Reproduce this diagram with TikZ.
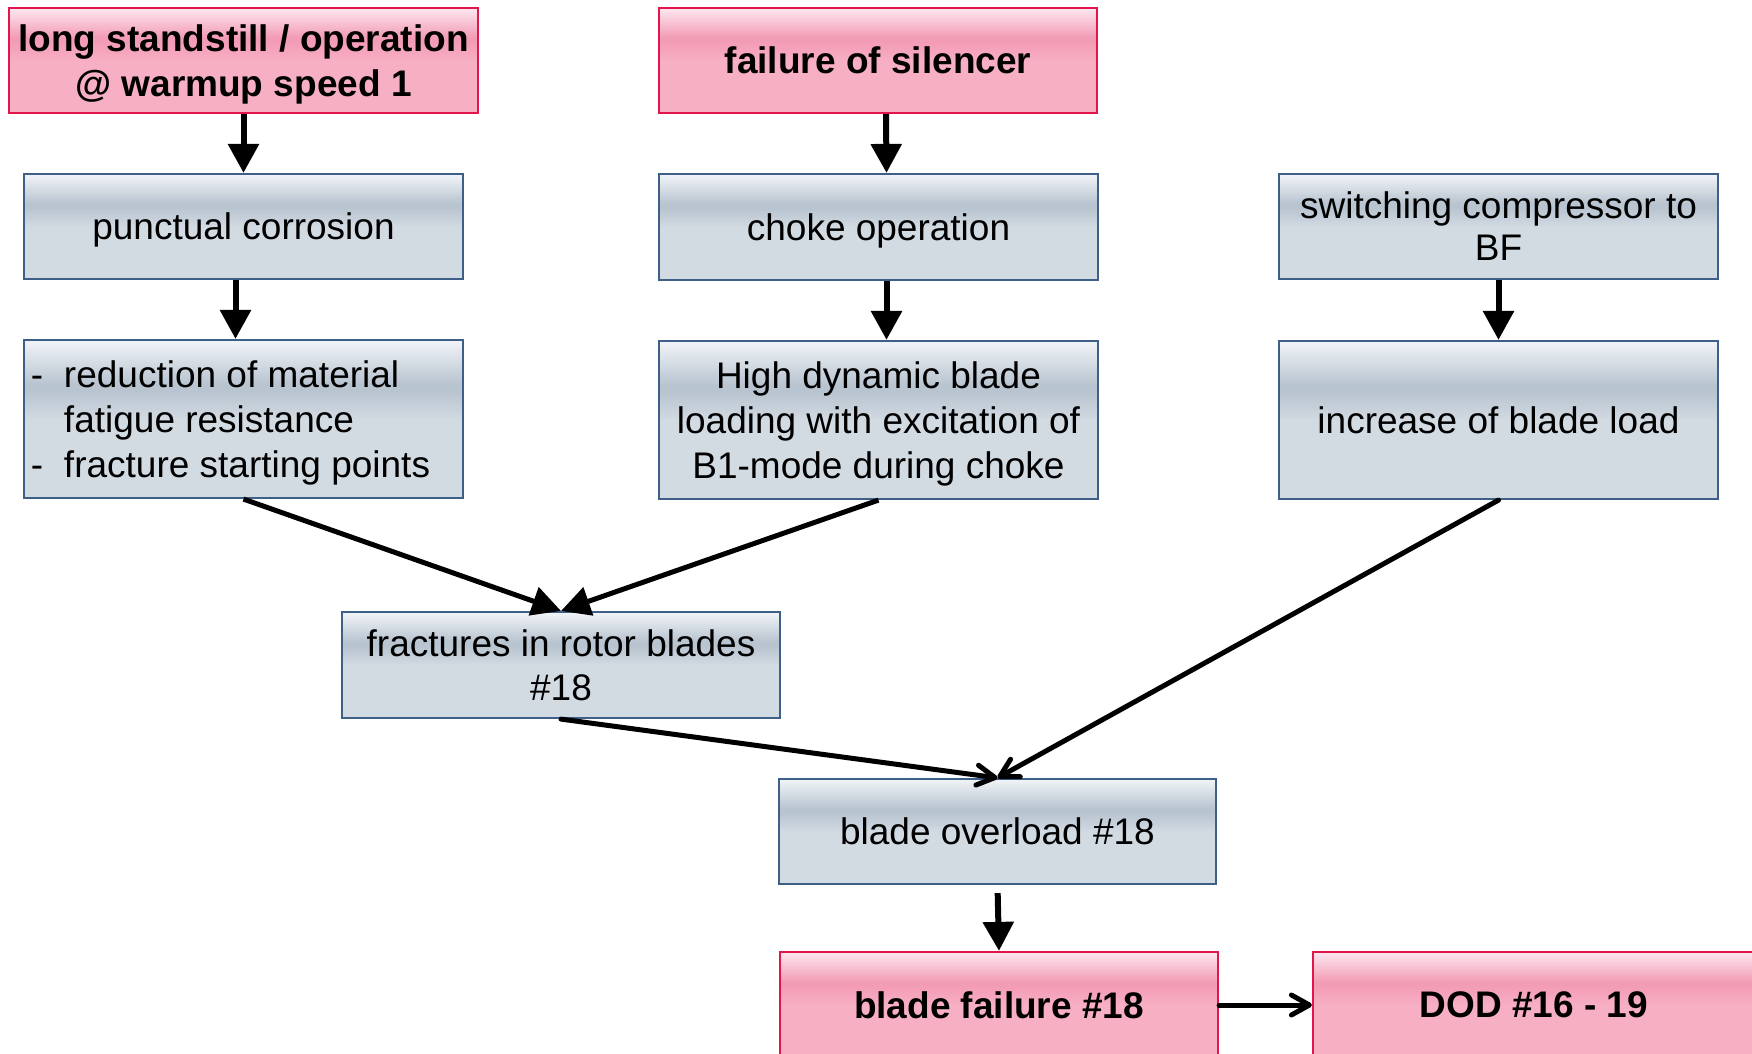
\documentclass[tikz,border=0pt]{standalone}
\usepackage{fontspec}
\setmainfont{Liberation Sans}
\usetikzlibrary{arrows.meta}

% box colours
\definecolor{gTop}{HTML}{EEF1F5}
\definecolor{gBand}{HTML}{B8C4D0}
\definecolor{gLow}{HTML}{D2DAE2}
\definecolor{gEdge}{HTML}{3D5F88}
\definecolor{pTop}{HTML}{FCE2EC}
\definecolor{pBand}{HTML}{F39CB5}
\definecolor{pLow}{HTML}{F7AFC3}
\definecolor{pEdge}{HTML}{E3154D}

% glossy vertical fills: the node spans 25bp (bottom) to 75bp (top)
\pgfdeclareverticalshading{grayfill}{100bp}{color(0bp)=(gLow); color(50bp)=(gLow); color(59bp)=(gBand); color(61bp)=(gBand); color(74bp)=(gTop); color(100bp)=(gTop)}
\pgfdeclareverticalshading{pinkfill}{100bp}{color(0bp)=(pLow); color(50bp)=(pLow); color(59bp)=(pBand); color(61bp)=(pBand); color(74bp)=(pTop); color(100bp)=(pTop)}

% one left-aligned line of fixed width, with an optional bullet dash
\newcommand\listline[2]{\makebox[212.5pt][l]{\makebox[16.5pt][l]{#1}#2}}

\tikzset{
  x=0.5pt, y=-0.5pt,
  cause/.style={draw=gEdge, line width=1.1pt, shade, shading=grayfill,
    inner sep=0pt, align=center, text depth=0pt,
    font=\fontsize{18.5pt}{22.3pt}\selectfont},
  event/.style={draw=pEdge, line width=1.1pt, shade, shading=pinkfill,
    inner sep=0pt, align=center, text depth=0pt,
    font=\fontsize{18.5pt}{22.3pt}\selectfont\bfseries},
  sz/.style 2 args={minimum width=#1*0.5pt, minimum height=#2*0.5pt},
  bigarrow/.style={line width=3pt, -{Triangle[length=14.5pt,width=15pt]}},
  slimarrow/.style={line width=2.5pt, -{Triangle[length=14.5pt,width=14.5pt]}},
  openarrow/.style={line width=2.5pt, line cap=round,
    -{Straight Barb[length=9pt,width=10pt,round]}}
}

\begin{document}
\begin{tikzpicture}
\useasboundingbox (0,0) rectangle (1752,1054);
\clip (0,0) rectangle (1752,1054);

% top row: triggering events
\node[event, sz={469}{105}] (A) at (243.5,60.5) {long standstill / operation\\@ warmup speed 1};
\node[event, sz={438}{105}] (S) at (878,60.5) {failure of silencer};

% second row
\node[cause, sz={439}{105}] (B) at (243.5,226.5) {punctual corrosion};
\node[cause, sz={439}{106}] (C) at (878.5,227) {choke operation};
\node[cause, sz={439}{105}, font=\fontsize{18.5pt}{21pt}\selectfont] (D) at (1498.5,226.5) {switching compressor to\\BF};

% third row
\node[cause, sz={439}{158}] (E) at (243.5,419)
  {\listline{-}{reduction of material}\\\listline{}{fatigue resistance}\\\listline{-}{fracture starting points}};
\node[cause, sz={439}{158}] (F) at (878.5,420) {High dynamic blade\\loading with excitation of\\B1-mode during choke};
\node[cause, sz={439}{158}] (G) at (1498.5,420) {increase of blade load};

% consequences
\node[cause, sz={438}{106}] (H) at (561,665) {fractures in rotor blades\\\#18};
\node[cause, sz={437}{105}] (I) at (997.5,831.5) {blade overload \#18};
\node[event, sz={438}{106}] (J) at (999,1005) {blade failure \#18};
\node[event, sz={442}{106}] (K) at (1534,1005) {DOD \#16 - 19};

% connectors
\draw[bigarrow] (A.south) -- (B.north);
\draw[bigarrow] ([xshift=4pt]S.south) -- ([xshift=4pt]C.north);
\draw[bigarrow] ([xshift=-4pt]B.south) -- ([xshift=-4pt]E.north);
\draw[bigarrow] ([xshift=4pt]C.south) -- ([xshift=4pt]F.north);
\draw[bigarrow] (D.south) -- (G.north);
\draw[slimarrow] (E.south) -- (H.north);
\draw[slimarrow] (F.south) -- (H.north);
\draw[openarrow] (H.south) -- (I.north);
\draw[openarrow] (G.south) -- (I.north);
\draw[bigarrow, shorten <=4pt] (I.south) -- (J.north);
\draw[openarrow] (J.east) -- (K.west);
\end{tikzpicture}
\end{document}
